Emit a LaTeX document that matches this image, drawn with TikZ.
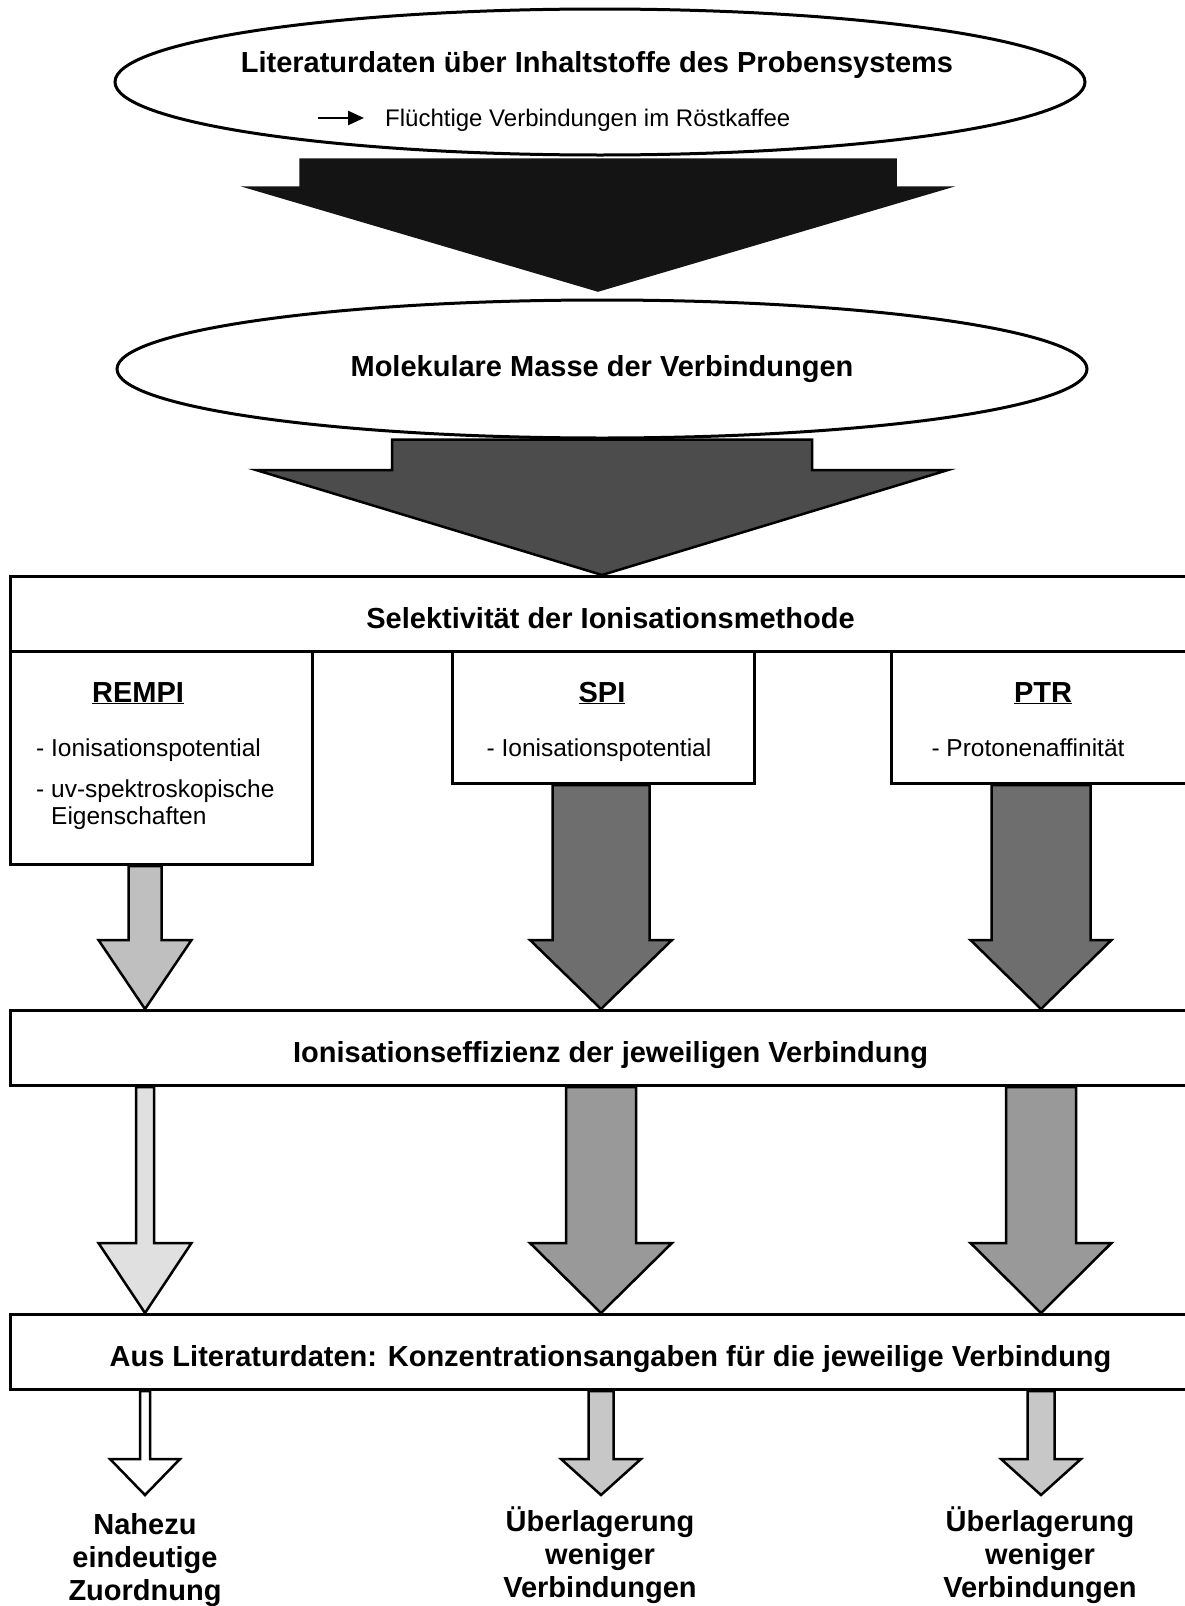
\documentclass[tikz,border=0pt]{standalone}
\usepackage{fontspec}
\setmainfont{Liberation Sans}
\usepackage{tikz}
\usetikzlibrary{positioning,calc,arrows.meta,shapes.geometric}

% block arrow: style, start, tip, shaft half width, head half width, head length
\newcommand{\fatarrow}[6]{%
  \draw[#1] let \p1=#2, \p2=#3 in
    (\x2-#4,\y1) -- (\x2+#4,\y1) -- (\x2+#4,\y2+#6) -- (\x2+#5,\y2+#6)
    -- (\p2) -- (\x2-#5,\y2+#6) -- (\x2-#4,\y2+#6) -- cycle;}

\begin{document}
\begin{tikzpicture}[x=1pt, y=-1pt,
                    ell/.style={ellipse, draw, line width=3pt, fill=white, inner sep=0pt},
                    band/.style={draw, line width=3pt, fill=white, anchor=north west,
                                 minimum width=1200pt, minimum height=75pt, inner sep=0pt,
                                 text height=29pt, text depth=0pt,
                                 font=\fontsize{29}{33}\selectfont\bfseries},
                    methbox/.style={draw, line width=3pt, fill=white, anchor=north west, inner sep=0pt},
                    methtitle/.style={anchor=base, inner sep=0pt, font=\fontsize{29}{33}\selectfont\bfseries},
                    itemtxt/.style={anchor=base west, inner sep=0pt, font=\fontsize{24.5}{27}\selectfont},
                    result/.style={anchor=north, inner sep=0pt, align=center,
                                   font=\fontsize{29}{33}\selectfont\bfseries},
                    blk/.style={line width=2.5pt, line join=miter}
                ]
    \useasboundingbox (0,0) rectangle (1185,1606);

    \node[ell, minimum width=970pt, minimum height=146pt] (lit) at (600,82) {};
    \node[methtitle] (littitle) at (597,72) {Literaturdaten über Inhaltstoffe des Probensystems};
    \node[itemtxt, font=\fontsize{24}{27}\selectfont] (litsub) at (385,126) {Flüchtige Verbindungen im Röstkaffee};
    \coordinate (subA) at (318,118);
    \coordinate (subB) at (364,118);
    \draw[-{Triangle[length=16pt,width=14pt]}, line width=2.5pt] (subA) -- (subB);

    \node[ell, minimum width=970pt, minimum height=138pt,
          font=\fontsize{29}{33}\selectfont\bfseries] (mol) at (602,369) {Molekulare Masse der Verbindungen};

    \node[band] (sel) at (9,575) {Selektivität der Ionisationsmethode};

    \node[methbox, minimum width=302pt, minimum height=213pt] (rempi) at (9,650) {};
    \node[methbox, minimum width=302pt, minimum height=132pt] (spi) at (451,650) {};
    \node[methbox, minimum width=320pt, minimum height=132pt] (ptr) at (890,650) {};

    \node[methtitle] (rempit) at (138,702) {\underline{REMPI}};
    \node[methtitle] (spit) at (602,702) {\underline{SPI}};
    \node[methtitle] (ptrt) at (1043,702) {\underline{PTR}};

    \node[itemtxt] (rempia) at (36,756) {- Ionisationspotential};
    \node[itemtxt] (rempib) at (36,797) {- uv-spektroskopische};
    \node[itemtxt] (rempic) at (51,824) {Eigenschaften};
    \node[itemtxt, anchor=base] (spia) at (599,756) {- Ionisationspotential};
    \node[itemtxt, anchor=base] (ptra) at (1028,756) {- Protonenaffinität};

    \node[band] (eff) at (9,1009) {Ionisationseffizienz der jeweiligen Verbindung};
    \node[band] (conc) at (9,1313) {Aus Literaturdaten: Konzentrationsangaben für die jeweilige Verbindung};

    \coordinate (colR) at (145,0);
    \coordinate (colS) at (601,0);
    \coordinate (colP) at (1041,0);
    \coordinate (tipR) at (145,1495);
    \coordinate (tipS) at (601,1495);
    \coordinate (tipP) at (1041,1495);

    \node[result] (resR) at (145,1513) {Nahezu\\eindeutige\\Zuordnung};
    \node[result] (resS) at (600,1507) {Überlagerung\\weniger\\Verbindungen};
    \node[result] (resP) at (1040,1507) {Überlagerung\\weniger\\Verbindungen};

    \fatarrow{blk, draw=black!92, fill=black!92}{([yshift=-3pt]lit.south)}{([xshift=-4pt,yshift=8pt]mol.north)}{297.5pt}{349pt}{103pt}
    \fatarrow{blk, fill=black!70}{(mol.south)}{(sel.north -| mol.south)}{210pt}{346pt}{105pt}

    \fatarrow{blk, fill=black!25}{(rempi.south -| colR)}{(eff.north -| colR)}{16.5pt}{46.5pt}{69pt}
    \fatarrow{blk, fill=black!57}{(spi.south -| colS)}{(eff.north -| colS)}{48.5pt}{71pt}{69pt}
    \fatarrow{blk, fill=black!57}{(ptr.south -| colP)}{(eff.north -| colP)}{49.5pt}{70.5pt}{69pt}

    \fatarrow{blk, fill=black!12}{(eff.south -| colR)}{(conc.north -| colR)}{9pt}{46.5pt}{70pt}
    \fatarrow{blk, fill=black!40}{(eff.south -| colS)}{(conc.north -| colS)}{35pt}{71pt}{70pt}
    \fatarrow{blk, fill=black!40}{(eff.south -| colP)}{(conc.north -| colP)}{35pt}{70.5pt}{70pt}

    \fatarrow{blk, fill=white}{(conc.south -| tipR)}{(tipR)}{5pt}{35pt}{36pt}
    \fatarrow{blk, fill=black!22}{(conc.south -| tipS)}{(tipS)}{12.5pt}{40pt}{36pt}
    \fatarrow{blk, fill=black!22}{(conc.south -| tipP)}{(tipP)}{13.5pt}{40pt}{36pt}
\end{tikzpicture}
\end{document}
